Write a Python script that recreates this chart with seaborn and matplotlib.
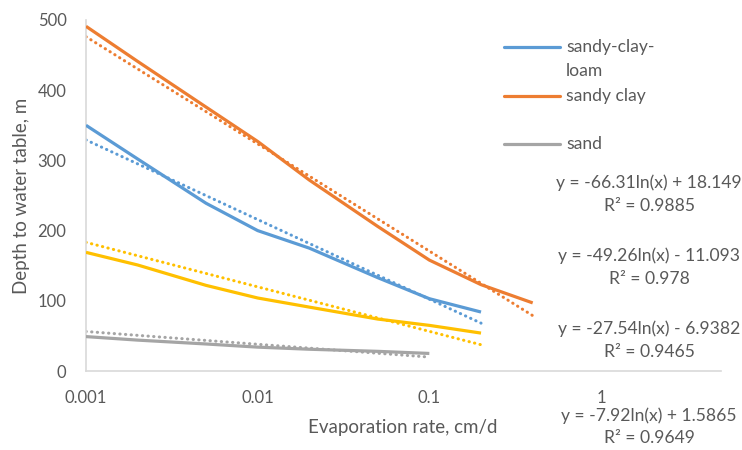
import numpy as np
import pandas as pd
import seaborn as sns
import matplotlib
matplotlib.use("Agg")
import matplotlib.pyplot as plt
from matplotlib.lines import Line2D

# ---------------- data ----------------
series_names = ["sandy-clay-loam", "sandy clay", "yellow", "sand"]
series_colors = ["#5B9BD5", "#ED7D31", "#FFC000", "#A5A5A5"]

x_loam = [0.001, 0.002, 0.005, 0.01, 0.02, 0.05, 0.1, 0.2]
y_loam = [350, 302, 239, 200, 175, 133, 103, 84]

x_clay = [0.001, 0.002, 0.005, 0.01, 0.02, 0.05, 0.1, 0.2, 0.4]
y_clay = [491, 441, 376, 327, 272, 206, 158, 123, 97]

x_yellow = [0.001, 0.002, 0.005, 0.01, 0.02, 0.05, 0.1, 0.2]
y_yellow = [169, 151, 122, 104, 91, 74, 65, 54]

x_sand = [0.001, 0.002, 0.005, 0.01, 0.02, 0.05, 0.1]
y_sand = [49, 44, 38.5, 34, 31, 28, 25]

# logarithmic trendline coefficients (y = a ln(x) + b) as printed on the chart
trend_a = [-49.26, -66.31, -27.54, -7.92]
trend_b = [-11.093, 18.149, -6.9382, 1.5865]

eq_labels = ["y = -66.31ln(x) + 18.149", "y = -49.26ln(x) - 11.093",
             "y = -27.54ln(x) - 6.9382", "y = -7.92ln(x) + 1.5865"]
r2_labels = ["R² = 0.9885", "R² = 0.978", "R² = 0.9465", "R² = 0.9649"]

x_ticks = [0.001, 0.01, 0.1, 1]
x_tick_labels = ["0.001", "0.01", "0.1", "1"]
y_ticks = [0, 100, 200, 300, 400, 500]

# ---------------- figure ----------------
sns.set_theme(style="white")
plt.rcParams["font.family"] = ["Lato", "DejaVu Sans"]
TXT = "#595959"

W, H = 742, 450
fig = plt.figure(figsize=(W / 100, H / 100), dpi=100)
ax = fig.add_axes([86 / W, 1 - 371 / H, (721 - 86) / W, (371 - 20) / H])

xs = [x_loam, x_clay, x_yellow, x_sand]
ys = [y_loam, y_clay, y_yellow, y_sand]

for xv, yv, c in zip(xs, ys, series_colors):
    sns.lineplot(x=xv, y=yv, color=c, lw=2.3, ax=ax, sort=False,
                 solid_capstyle="butt", solid_joinstyle="round", zorder=3)

for xv, a, b, c in zip(xs, trend_a, trend_b, series_colors):
    xv = np.asarray(xv, dtype=float)
    yt = a * np.log(xv) + b
    sns.lineplot(x=xv, y=yt, color=c, lw=2.2, ax=ax, sort=False,
                 linestyle=(0, (0.1, 1.75)), dash_capstyle="round", zorder=2)

ax.set_xscale("log")
ax.set_xlim(0.001, 5.0)
ax.set_ylim(0, 500)
ax.set_xticks(x_ticks)
ax.set_xticklabels(x_tick_labels)
ax.set_yticks(y_ticks)
ax.minorticks_off()
ax.tick_params(axis="both", length=0, labelsize=12, colors=TXT)
ax.tick_params(axis="x", pad=14)
ax.tick_params(axis="y", pad=14)

for s in ["top", "right"]:
    ax.spines[s].set_visible(False)
for s in ["left", "bottom"]:
    ax.spines[s].set_color("#D9D9D9")
    ax.spines[s].set_linewidth(1.2)

ax.set_xlabel("")
ax.set_ylabel("")
fig.text(403 / W, 1 - 428 / H, "Evaporation rate, cm/d", ha="center", va="center",
         fontsize=13.5, color=TXT)
fig.text(22 / W, 1 - 196 / H, "Depth to water table, m", ha="center", va="center",
         rotation=90, fontsize=13.5, color=TXT)

# ---------------- legend (manual, as in the reference) ----------------
def fx(px):
    return px / W

def fy(py):
    return 1 - py / H

leg = [(47, series_colors[0], ["sandy-clay-", "loam"]),
       (96, series_colors[1], ["sandy clay"]),
       (144, series_colors[3], ["sand"])]
for py, c, lines in leg:
    fig.add_artist(Line2D([fx(504), fx(560)], [fy(py), fy(py)], color=c, lw=2.3,
                          transform=fig.transFigure))
    for i, t in enumerate(lines):
        fig.text(fx(566), fy(py + 24 * i), t, ha="left", va="center",
                 fontsize=12.6, color=TXT)

# ---------------- trendline equations ----------------
eq_y = [(183, 206), (256, 279), (329, 352), (416, 438)]
for (y1, y2), e, r in zip(eq_y, eq_labels, r2_labels):
    fig.text(fx(649), fy(y1), e, ha="center", va="center", fontsize=12.6, color=TXT)
    fig.text(fx(649), fy(y2), r, ha="center", va="center", fontsize=12.6, color=TXT)

fig.savefig("out.png", dpi=100)
